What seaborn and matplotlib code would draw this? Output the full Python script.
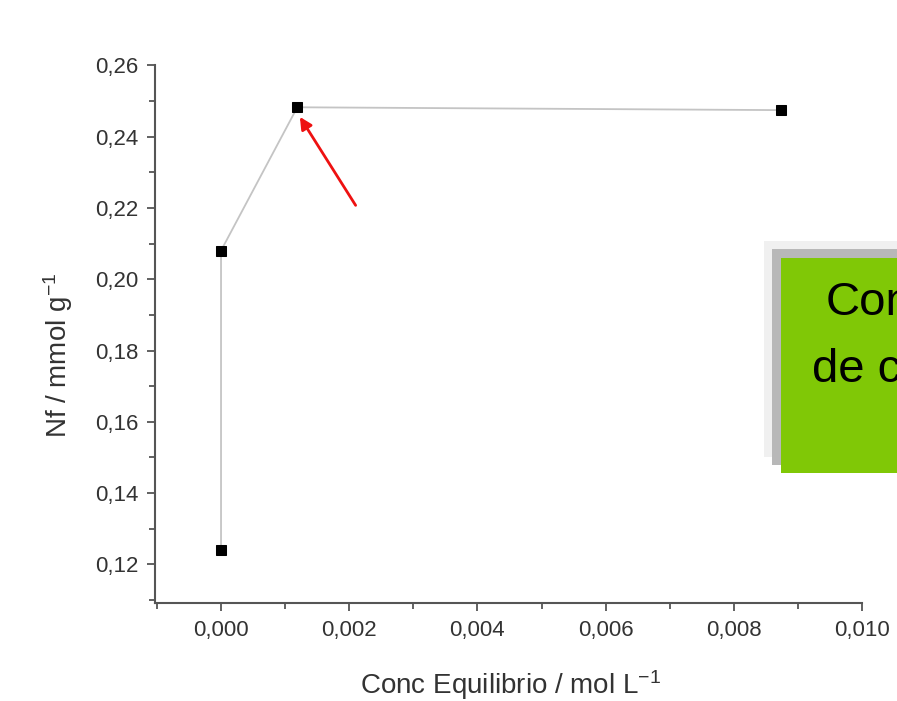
import numpy as np
import pandas as pd
import seaborn as sns
import matplotlib.pyplot as plt
from matplotlib.ticker import FuncFormatter, MultipleLocator
from matplotlib.patches import Rectangle

# data
conc = [0.0, 0.0, 0.00119, 0.00874]
nf = [0.124, 0.208, 0.2482, 0.2474]
box_lines = ["Con", "de c"]

sns.set_style("ticks")
plt.rcParams['font.family'] = ['Liberation Sans', 'DejaVu Sans']
plt.rcParams['mathtext.default'] = 'regular'

df = pd.DataFrame({'conc': conc, 'nf': nf})

fig = plt.figure(figsize=(8.97, 7.01), dpi=100)
ax = fig.add_axes([0.1728, 0.1398, 0.961 - 0.1728, 0.907 - 0.1398])

sns.lineplot(data=df, x='conc', y='nf', sort=False, estimator=None, ax=ax,
             color='#c4c4c4', linewidth=1.3, marker='s', markersize=6.5,
             markerfacecolor='black', markeredgecolor='black', zorder=3)

ax.set_xlim(-0.00103, 0.010)
ax.set_ylim(0.1092, 0.26)
ax.xaxis.set_major_locator(MultipleLocator(0.002))
ax.xaxis.set_minor_locator(MultipleLocator(0.001))
ax.yaxis.set_major_locator(MultipleLocator(0.02))
ax.yaxis.set_minor_locator(MultipleLocator(0.01))
ax.xaxis.set_major_formatter(FuncFormatter(lambda v, p: f"{v:.3f}".replace('.', ',').replace('-', '')))
ax.yaxis.set_major_formatter(FuncFormatter(lambda v, p: f"{v:.2f}".replace('.', ',')))

sns.despine(ax=ax)
for s in ['left', 'bottom']:
    ax.spines[s].set_color('#555555')
    ax.spines[s].set_linewidth(1.5)
ax.tick_params(which='major', length=6, width=1.3, color='#555555',
               labelsize=16, labelcolor='#333333', pad=6)
ax.tick_params(which='minor', length=4, width=1.3, color='#555555')

ax.set_xlabel("Conc Equilibrio / mol L$^{-1}$", fontsize=20, color='#333333')
ax.set_ylabel("Nf / mmol g$^{-1}$", fontsize=20, color='#333333')
ax.xaxis.set_label_coords(0.503, -0.122)
ax.yaxis.set_label_coords(-0.113, 0.46)

# red arrow
ax.annotate("", xy=(0.00123, 0.2455), xytext=(0.0021, 0.2207),
            arrowprops=dict(arrowstyle='-|>', color='#ee1111', lw=2,
                            mutation_scale=18, shrinkA=0, shrinkB=0))

# overlay box with shadows (figure coords)
W, H = 897, 701
def frect(x0, y0, x1, y1, color):
    fig.patches.append(Rectangle((x0 / W, 1 - y1 / H), (x1 - x0) / W, (y1 - y0) / H,
                                 transform=fig.transFigure, facecolor=color,
                                 edgecolor='none', zorder=5))
frect(764, 241, 920, 457, '#f0f0f0')
frect(772, 249, 920, 465, '#b8b8b8')
frect(781, 258, 920, 473, '#80c806')
fig.text(826 / W, 1 - 303 / H, box_lines[0], fontsize=34, color='black',
         va='center', ha='left', zorder=6)
fig.text(812 / W, 1 - 370 / H, box_lines[1], fontsize=34, color='black',
         va='center', ha='left', zorder=6)

fig.savefig('out.png', dpi=100)
